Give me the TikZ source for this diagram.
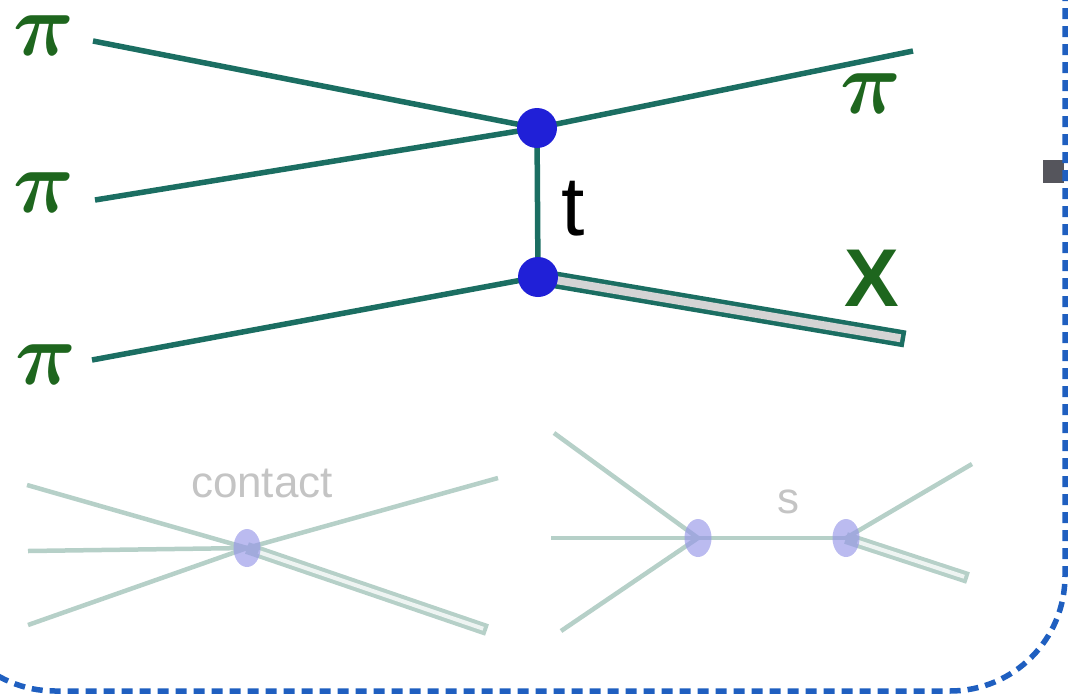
\documentclass[tikz,border=0pt]{standalone}
\usepackage{fontspec}
\usepackage{graphicx}
\usetikzlibrary{shapes.geometric}
\setmainfont{Liberation Serif}
\setsansfont{Liberation Sans}
\definecolor{tealline}{RGB}{27,110,98}
\definecolor{pigreen}{RGB}{30,102,30}
\definecolor{vblue}{RGB}{32,32,215}
\definecolor{faintline}{RGB}{182,208,200}
\definecolor{faintin}{RGB}{238,244,242}
\definecolor{faintv}{RGB}{150,150,232}
\definecolor{xgray}{RGB}{212,212,212}
\definecolor{borderblue}{RGB}{31,95,192}
\definecolor{tabgray}{RGB}{85,85,92}
\definecolor{labgray}{RGB}{196,196,196}
\newcommand{\bigpisym}{\scalebox{3.4}[3.6]{\boldmath$\pi$}}
\begin{document}
\begin{tikzpicture}[x=1pt,y=-1pt,
  pilabel/.style={inner sep=0pt, text=pigreen, font=\fontsize{24.88}{30}\selectfont},
  prop/.style={draw=tealline, line width=5.5pt},
  vtx/.style={circle, fill=vblue, inner sep=0pt, minimum size=40pt},
  fprop/.style={draw=faintline, line width=4.5pt},
  fvtx/.style={ellipse, fill=faintv, fill opacity=0.65, inner sep=0pt, minimum width=27pt, minimum height=38pt},
  glabel/.style={inner sep=0pt, text=labgray, font=\fontsize{44}{44}\selectfont\sffamily}
]
\useasboundingbox (0,0) rectangle (1069,697);

% main diagram
\node[pilabel] (p1) at (44,36) {\bigpisym};
\node[pilabel] (p2) at (44,193) {\bigpisym};
\node[pilabel] (p3) at (46,365) {\bigpisym};
\node[pilabel] (p4) at (871,94) {\bigpisym};

\coordinate (a1) at (93,41);
\coordinate (a2) at (95,200);
\coordinate (a3) at (92,360);
\coordinate (a4) at (913,51);
\coordinate (ax) at (905,339);

\coordinate (c1) at (537,128);
\coordinate (c2) at (538,277);

\draw[prop] (a1) -- (c1);
\draw[prop] (a2) -- (c1);
\draw[prop] (c1) -- (a4);
\draw[prop] (c1) -- (c2);
\draw[prop] (a3) -- (c2);
\draw[draw=tealline, line width=17pt] (c2) -- (ax);
\draw[draw=xgray, line width=8pt, shorten >=4.5pt] (c2) -- (ax);

\node[vtx] (v1) at (c1) {};
\node[vtx] (v2) at (c2) {};

\node[inner sep=0pt, font=\fontsize{84}{84}\selectfont\sffamily] (t) at (573,209) {t};
\node[inner sep=0pt, text=pigreen, font=\fontsize{82}{82}\selectfont\sffamily\bfseries] (x) at (872,278) {X};

% contact diagram
\coordinate (k0) at (247,548);
\coordinate (k1) at (27,485);
\coordinate (k2) at (28,551);
\coordinate (k3) at (28,625);
\coordinate (k4) at (498,478);
\coordinate (k5) at (487,630);
\draw[fprop] (k1) -- (k0);
\draw[fprop] (k2) -- (k0);
\draw[fprop] (k3) -- (k0);
\draw[fprop] (k0) -- (k4);
\draw[draw=faintline, line width=12pt] (k0) -- (k5);
\draw[draw=faintin, line width=4pt, shorten >=4pt, shorten <=12pt] (k0) -- (k5);
\node[fvtx] (kv) at (k0) {};
\node[glabel] (contact) at (262,483) {contact};

% s-channel diagram
\coordinate (s1) at (698,538);
\coordinate (s2) at (846,538);
\coordinate (l1) at (554,433);
\coordinate (l2) at (551,538);
\coordinate (l3) at (561,631);
\coordinate (r1) at (972,464);
\coordinate (r2) at (968,578);
\draw[fprop] (l1) -- (s1);
\draw[fprop] (l2) -- (s1);
\draw[fprop] (l3) -- (s1);
\draw[fprop] (s1) -- (s2);
\draw[fprop] (s2) -- (r1);
\draw[draw=faintline, line width=12pt] (s2) -- (r2);
\draw[draw=faintin, line width=4pt, shorten >=4pt, shorten <=12pt] (s2) -- (r2);
\node[fvtx] (sv1) at (s1) {};
\node[fvtx] (sv2) at (s2) {};
\node[glabel] (slab) at (788,502) {s};

% border
\fill[tabgray] (1043,160) rectangle (1064,183);
\draw[borderblue, line width=5.5pt, dash pattern=on 11pt off 7pt, rounded corners=115pt]
  (1065,-10) -- (1065,691) -- (-60,691) -- (-60,-10);
\end{tikzpicture}
\end{document}
